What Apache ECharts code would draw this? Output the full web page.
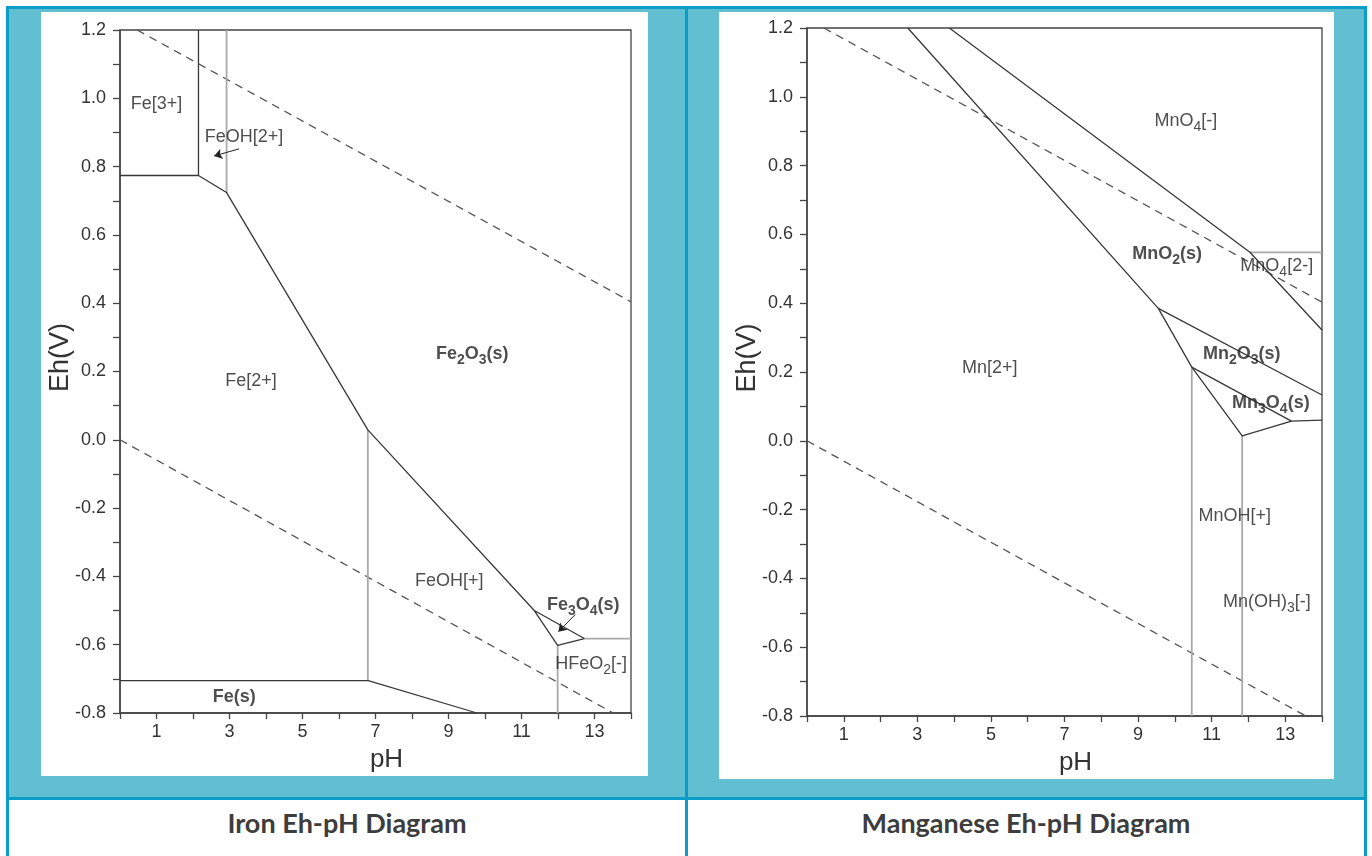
<!DOCTYPE html>
<html>
<head>
<meta charset="utf-8">
<title>Iron and Manganese Eh-pH Diagrams</title>
<script src="https://cdn.jsdelivr.net/npm/echarts@6.0.0/dist/echarts.min.js"></script>
<style>
  html, body { margin: 0; padding: 0; background: #fff; }
  #page { position: relative; width: 1372px; height: 856px; overflow: hidden; }
  .teal { position: absolute; background: #62bed1; }
  .rule { position: absolute; background: #0a9dc8; }
  .plot { position: absolute; background: #fff; overflow: hidden; }
  .plot > div { width: 100%; height: 100%; }
  .caption {
    position: absolute; top: 798px; height: 50px; line-height: 50px;
    text-align: center; font-family: Lato, "Open Sans", sans-serif;
    font-weight: bold; font-size: 27px; color: #3d3d3d;
  }
</style>
</head>
<body>
<div id="page">
  <div class="teal" style="left:9px;top:9px;width:676px;height:788px"></div>
  <div class="teal" style="left:688px;top:9px;width:676px;height:788px"></div>
  <div class="rule" style="left:6px;top:6px;width:1361px;height:3px"></div>
  <div class="rule" style="left:6px;top:797px;width:1361px;height:3px"></div>
  <div class="rule" style="left:6px;top:6px;width:3px;height:850px"></div>
  <div class="rule" style="left:685px;top:6px;width:3px;height:850px"></div>
  <div class="rule" style="left:1364px;top:6px;width:3px;height:850px"></div>

  <div class="plot" style="left:41px;top:12px;width:607px;height:764px"><div id="iron"></div></div>
  <div class="plot" style="left:719px;top:12px;width:615px;height:767px"><div id="manganese"></div></div>

  <div class="caption" style="left:9px;width:676px">Iron Eh-pH Diagram</div>
  <div class="caption" style="left:688px;width:676px">Manganese Eh-pH Diagram</div>
</div>

<script>
// ---- Iron (Fe) ----
const ironWaterUpper = [[0.47, 1.2], [14, 0.404]]
const ironWaterLower = [[0, 0], [13.51, -0.8]]
const ironFe3Box = [[2.15, 1.2], [2.15, 0.774], [0, 0.774]]
const ironMainBoundary = [[2.15, 0.774], [2.92, 0.724], [6.79, 0.029], [11.35, -0.5], [11.99, -0.602], [12.72, -0.582], [11.35, -0.5]]
const ironFeSolid = [[0, -0.705], [6.8, -0.705], [9.78, -0.8]]
const ironGrayLines = [
  [[2.92, 1.2], [2.92, 0.724]],
  [[6.79, 0.029], [6.79, -0.705]],
  [[12.72, -0.582], [14, -0.582]],
  [[11.99, -0.602], [11.99, -0.8]],
]
const ironLabels = [
  ['Fe[3+]', 1.0, 0.983],
  ['FeOH[2+]', 3.4, 0.887],
  ['Fe[2+]', 3.59, 0.173],
  ['Fe2O3(s)', 9.65, 0.25],
  ['FeOH[+]', 9.02, -0.415],
  ['Fe3O4(s)', 12.69, -0.483],
  ['HFeO2[-]', 12.91, -0.658],
  ['Fe(s)', 3.13, -0.752],
]
const ironArrows = [
  [[3.26, 0.852], [2.58, 0.831]],
  [[12.47, -0.512], [12.01, -0.562]],
]

// ---- Manganese (Mn) ----
const mnWaterUpper = [[0.46, 1.2], [14, 0.403]]
const mnWaterLower = [[0, 0], [13.56, -0.8]]
const mnPermanganate = [[3.87, 1.2], [12.04, 0.548], [14, 0.322]]
const mnDioxide = [[2.74, 1.2], [9.55, 0.385], [14, 0.133]]
const mnLowerOxides = [[9.55, 0.385], [10.46, 0.214], [11.83, 0.014], [13.17, 0.057], [14, 0.06]]
const mnMn2O3Base = [[10.46, 0.214], [13.17, 0.057]]
const mnGrayLines = [
  [[12.04, 0.548], [14, 0.548]],
  [[10.46, 0.214], [10.46, -0.8]],
  [[11.83, 0.014], [11.83, -0.8]],
]
const mnLabels = [
  ['MnO4[-]', 10.3, 0.93],
  ['MnO2(s)', 9.79, 0.543],
  ['MnO4[2-]', 12.77, 0.508],
  ['Mn[2+]', 4.97, 0.212],
  ['Mn2O3(s)', 11.82, 0.252],
  ['Mn3O4(s)', 12.61, 0.11],
  ['MnOH[+]', 11.63, -0.219],
  ['Mn(OH)3[-]', 12.5, -0.469],
]
const mnArrows = []

const phTicks = [1, 3, 5, 7, 9, 11, 13]

const FONT = '"Liberation Sans", Arial, sans-serif'
const DARK = '#383838'
const GRAY = '#a9a9a9'
const INK = '#222'

function lineSeries(points, color, width, type) {
  return {
    type: 'line',
    data: points,
    symbol: 'none',
    silent: true,
    clip: true,
    lineStyle: { color, width, type: type || 'solid' },
    z: 3,
  }
}

// digits after a letter or ")" are subscripts: Fe2O3 -> Fe{sub|2}O{sub|3}
function richName(name) {
  const solid = name.endsWith('(s)')
  const body = name.replace(/([A-Za-z)])(\d)/g, solid ? '$1{bsub|$2}' : '$1{sub|$2}')
  if (!solid) return body
  return body.split(/(\{bsub\|\d\})/).map(p => p.startsWith('{') ? p : (p ? '{b|' + p + '}' : '')).join('')
}

function buildOption(d) {
  const series = [
    lineSeries(d.waterUpper, '#555', 1.3, [8, 6]),
    lineSeries(d.waterLower, '#555', 1.3, [8, 6]),
  ]
  d.gray.forEach(pts => series.push(lineSeries(pts, GRAY, 1.8)))
  d.dark.forEach(pts => series.push(lineSeries(pts, DARK, 1.3)))

  series.push({
    type: 'scatter',
    symbolSize: 0,
    silent: true,
    z: 5,
    data: d.labels.map(l => ({ name: l[0], value: [l[1], l[2]] })),
    label: {
      show: true,
      position: 'inside',
      formatter: p => richName(p.name),
      fontFamily: FONT,
      fontSize: 18,
      color: INK,
      lineHeight: 26,
      rich: {
        sub: { fontFamily: FONT, fontSize: 14, lineHeight: 14, verticalAlign: 'bottom', color: INK },
        b: { fontFamily: FONT, fontSize: 18, fontWeight: 'bold', color: INK, lineHeight: 26 },
        bsub: { fontFamily: FONT, fontSize: 14, fontWeight: 'bold', lineHeight: 14, verticalAlign: 'bottom', color: INK },
      },
    },
    markLine: {
      silent: true,
      symbol: ['none', 'arrow'],
      symbolSize: 8,
      label: { show: false },
      lineStyle: { color: '#222', width: 1, type: 'solid' },
      data: d.arrows.map(a => [{ coord: a[0] }, { coord: a[1] }]),
    },
  })

  return {
    animation: false,
    textStyle: { fontFamily: FONT },
    grid: Object.assign({
      show: true,
      borderColor: '#444',
      borderWidth: 1.3,
      containLabel: false,
      outerBoundsMode: 'none',
    }, d.grid),
    xAxis: {
      type: 'value',
      min: 0,
      max: 14,
      interval: 1,
      name: 'pH',
      nameLocation: 'middle',
      nameGap: 34,
      nameMoveOverlap: false,
      nameTextStyle: { fontSize: 26, color: '#333', fontFamily: FONT, padding: [0, 0, 0, 22] },
      axisLine: { show: true, onZero: false, lineStyle: { color: '#444', width: 1.5 } },
      axisTick: { show: true, length: 6, lineStyle: { color: '#444', width: 1.3 } },
      splitLine: { show: false },
      axisLabel: {
        fontSize: 18,
        color: '#333',
        margin: 10,
        formatter: v => phTicks.includes(Math.round(v)) ? String(Math.round(v)) : '',
      },
    },
    yAxis: {
      type: 'value',
      min: -0.8,
      max: 1.2,
      interval: 0.1,
      name: 'Eh(V)',
      nameLocation: 'middle',
      nameGap: 46,
      nameMoveOverlap: false,
      nameTextStyle: { fontSize: 27, color: '#333', fontFamily: FONT, padding: [0, 0, 0, 28] },
      axisLine: { show: true, onZero: false, lineStyle: { color: '#444', width: 1.5 } },
      axisTick: { show: true, length: 7, lineStyle: { color: '#444', width: 1.3 } },
      splitLine: { show: false },
      axisLabel: {
        fontSize: 18,
        color: '#333',
        margin: 14,
        formatter: v => {
          const t = Math.round(v * 10)
          if (t % 2 !== 0) return ''
          return t === 0 ? '0.0' : (t / 10).toFixed(1)
        },
      },
    },
    series,
  }
}

const ironChart = echarts.init(document.getElementById('iron'))
ironChart.setOption(buildOption({
  grid: { left: 79, top: 18, right: 17, bottom: 63 },
  waterUpper: ironWaterUpper,
  waterLower: ironWaterLower,
  dark: [ironFe3Box, ironMainBoundary, ironFeSolid],
  gray: ironGrayLines,
  labels: ironLabels,
  arrows: ironArrows,
}))

const mnChart = echarts.init(document.getElementById('manganese'))
mnChart.setOption(buildOption({
  grid: { left: 88, top: 16, right: 12, bottom: 63 },
  waterUpper: mnWaterUpper,
  waterLower: mnWaterLower,
  dark: [mnPermanganate, mnDioxide, mnLowerOxides, mnMn2O3Base],
  gray: mnGrayLines,
  labels: mnLabels,
  arrows: mnArrows,
}))
</script>
</body>
</html>
